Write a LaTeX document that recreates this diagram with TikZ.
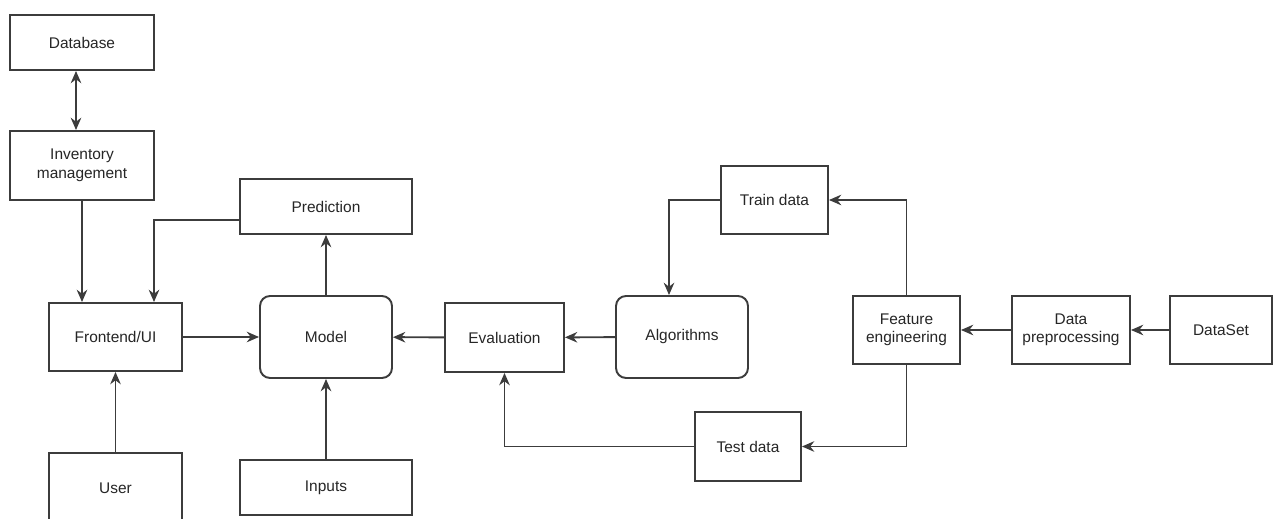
\documentclass[tikz,border=0pt]{standalone}
\usepackage{fontspec}
\setmainfont{Liberation Sans}
\usepackage{tikz}
\usetikzlibrary{positioning, arrows.meta, calc}
\definecolor{linegray}{RGB}{60,60,60}
\tikzset{
  flow/.style={
	->, % every connector is directed
	>={Stealth[length=7pt, width=6pt]}, % filled arrow heads
	draw=linegray, line width=1.1pt,
	every node/.style={font=\fontsize{8.8}{10.5}\selectfont, text=black!85, align=center},
  },
  block/.style={draw=linegray, line width=1.1pt, fill=white}, % plain box
  roundblock/.style={block, rounded corners=0.2cm}, % box with round corners
}

\begin{document}
\begin{tikzpicture}[flow, x=0.02cm, y=-0.02cm]
\useasboundingbox (0,0) rectangle (1274,519);
% left part
\node[block, minimum width=2.88cm, minimum height=1.1cm] (db) at (82,42.5) {Database};
\node[block, minimum width=2.88cm, minimum height=1.38cm] (inv) at (82,165.5) {Inventory\\management};
\node[block, minimum width=2.66cm, minimum height=1.36cm] (ui) at (115.5,337) {Frontend/UI};
\node[block, minimum width=2.66cm, minimum height=1.4cm] (user) at (115.5,488) {User};
% middle part
\node[block, minimum width=3.44cm, minimum height=1.1cm] (pred) at (326,206.5) {Prediction};
\node[roundblock, minimum width=2.64cm, minimum height=1.64cm] (model) at (326,337) {Model};
\node[block, minimum width=3.44cm, minimum height=1.1cm] (inputs) at (326,487.5) {Inputs};
\node[block, minimum width=2.38cm, minimum height=1.38cm] (eval) at (504.5,337.5) {Evaluation};
\node[roundblock, minimum width=2.64cm, minimum height=1.64cm] (alg) at (682,337) {Algorithms};
% right part
\node[block, minimum width=2.14cm, minimum height=1.36cm] (train) at (774.5,200) {Train data};
\node[block, minimum width=2.12cm, minimum height=1.38cm] (test) at (748,446.5) {Test data};
\node[block, minimum width=2.14cm, minimum height=1.36cm] (feat) at (906.5,330) {Feature\\engineering};
\node[block, minimum width=2.36cm, minimum height=1.36cm] (prep) at (1071,330) {Data\\preprocessing};
\node[block, minimum width=2.04cm, minimum height=1.36cm] (data) at (1221,330) {DataSet};

\draw[<->] ([xshift=-0.12cm]db.south) -- ([xshift=-0.12cm]inv.north);
\draw (inv.south) -- (inv.south |- ui.north);
\draw ([yshift=-0.27cm]pred.west) -| ([xshift=0.77cm]ui.north);
\draw (user) -- (ui);
\draw (ui) -- (model);
\draw (model) -- (pred);
\draw (inputs) -- (model);
\draw (eval) -- (model);
\draw (alg) -- (eval);
\draw (train.west) -| ([xshift=-0.26cm]alg.north);
\draw (feat.north) |- (train.east);
\draw (feat.south) |- (test.east);
\draw (test.west) -| (eval.south);
\draw (prep) -- (feat);
\draw (data) -- (prep);
\end{tikzpicture}
\end{document}
